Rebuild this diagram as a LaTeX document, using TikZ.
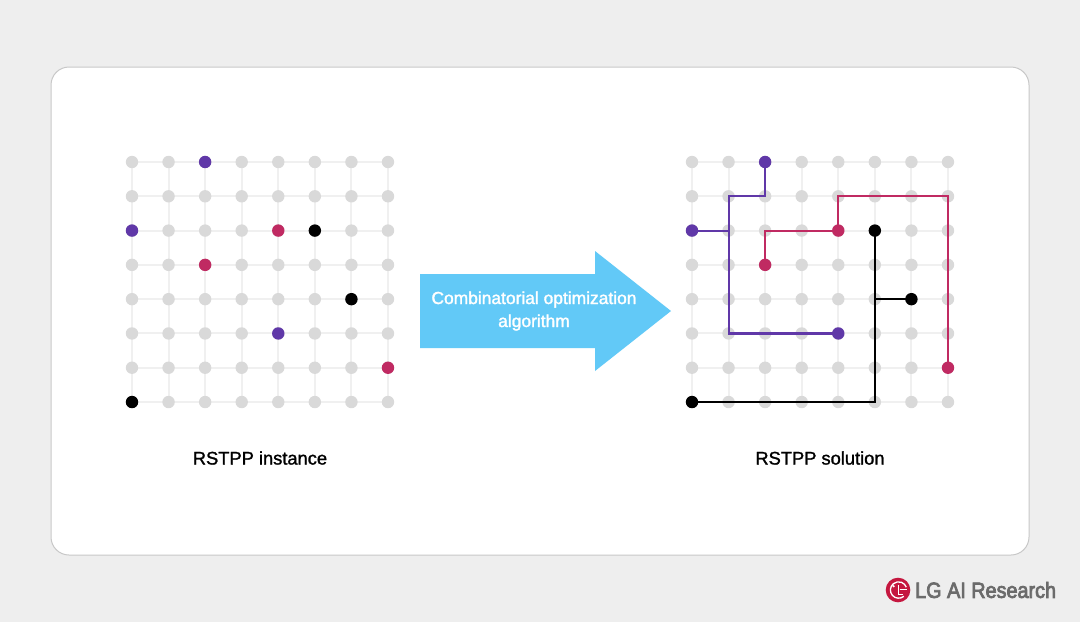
\documentclass[tikz,border=0pt]{standalone}
\usepackage{fontspec}
\usepackage{graphicx}
\setmainfont{Liberation Sans}
\newcommand{\heavier}[2]{\special{pdf:code 2 Tr #1 w}#2\special{pdf:code 0 Tr}}
\pgfdeclarelayer{cardlayer}
\pgfdeclarelayer{gridlayer}
\pgfsetlayers{cardlayer,gridlayer,main}
\definecolor{bgc}{HTML}{EEEEEE}
\definecolor{cardline}{HTML}{C8C8C8}
\definecolor{gridc}{HTML}{F0F0F0}
\definecolor{dotc}{HTML}{D9D9D9}
\definecolor{purp}{HTML}{6038A8}
\definecolor{crim}{HTML}{C02A62}
\definecolor{sky}{HTML}{62C9F7}
\definecolor{logogray}{HTML}{6B6B6B}
\definecolor{logored}{HTML}{C5173F}
\tikzset{
  dot/.style={circle,inner sep=0pt,minimum size=12.4pt,fill=#1},
  gridline/.style={draw=gridc,line width=2pt},
  route/.style={draw=#1,line width=2.1pt,line join=miter},
  caption/.style={font=\fontsize{18.3}{22}\selectfont,text=black,inner sep=0pt},
}
\begin{document}
\begin{tikzpicture}[x=1pt,y=-1pt]
\useasboundingbox (0,0) rectangle (1080,622);
\begin{pgfonlayer}{cardlayer}
\fill[bgc] (0,0) rectangle (1080,622);
\draw[cardline,fill=white,line width=1pt,rounded corners=18pt] (51,67) rectangle (1029,555);
\end{pgfonlayer}
% grey dots
\foreach \i in {1,...,8}{
  \foreach \j in {1,...,8}{
    \node[dot=dotc] (L-\i-\j) at ({132+36.57*(\i-1)},{162+34.29*(\j-1)}) {};
    \node[dot=dotc] (R-\i-\j) at ({692+36.57*(\i-1)},{162+34.29*(\j-1)}) {};
  }
}
% faint grid
\begin{pgfonlayer}{gridlayer}
\foreach \k in {1,...,8}{
  \draw[gridline] (L-\k-1.center) -- (L-\k-8.center);
  \draw[gridline] (L-1-\k.center) -- (L-8-\k.center);
  \draw[gridline] (R-\k-1.center) -- (R-\k-8.center);
  \draw[gridline] (R-1-\k.center) -- (R-8-\k.center);
}
\end{pgfonlayer}
% solution routes
\draw[route=purp] (R-3-1.center) -- (R-3-2.center) -- (R-2-2.center) -- (R-2-6.center) -- (R-5-6.center);
\draw[route=purp] (R-1-3.center) -- (R-2-3.center);
\draw[route=crim] (R-3-4.center) -- (R-3-3.center) -- (R-5-3.center) -- (R-5-2.center) -- (R-8-2.center) -- (R-8-7.center);
\draw[route=black] (R-6-3.center) -- (R-6-8.center) -- (R-1-8.center);
\draw[route=black] (R-7-5.center) -- (R-6-5.center);
% coloured terminals, left
\node[dot=purp] (lp1) at (L-3-1) {};
\node[dot=purp] (lp2) at (L-1-3) {};
\node[dot=purp] (lp3) at (L-5-6) {};
\node[dot=crim] (lc1) at (L-5-3) {};
\node[dot=crim] (lc2) at (L-3-4) {};
\node[dot=crim] (lc3) at (L-8-7) {};
\node[dot=black] (lk1) at (L-6-3) {};
\node[dot=black] (lk2) at (L-7-5) {};
\node[dot=black] (lk3) at (L-1-8) {};
% coloured terminals, right
\node[dot=purp] (rp1) at (R-3-1) {};
\node[dot=purp] (rp2) at (R-1-3) {};
\node[dot=purp] (rp3) at (R-5-6) {};
\node[dot=crim] (rc1) at (R-5-3) {};
\node[dot=crim] (rc2) at (R-3-4) {};
\node[dot=crim] (rc3) at (R-8-7) {};
\node[dot=black] (rk1) at (R-6-3) {};
\node[dot=black] (rk2) at (R-7-5) {};
\node[dot=black] (rk3) at (R-1-8) {};
% arrow
\fill[sky] (420,274) -- (595,274) -- (595,251) -- (671,311) -- (595,371) -- (595,348) -- (420,348) -- cycle;
\node[font=\fontsize{17.4}{23}\selectfont,text=white,align=center,inner sep=0pt] (algo) at (534,311) {\heavier{0.3}{Combinatorial optimization}\\\heavier{0.3}{algorithm}};
% captions
\node[caption] (capl) at (260,458) {\heavier{0.25}{RSTPP instance}};
\node[caption] (capr) at (820,458) {\heavier{0.25}{RSTPP solution}};
% logo
\fill[logored] (898,590) circle (12.3);
\draw[white,line width=1.3pt] (898.6,590) ++(50:8.2) arc (50:340:8.2);
\draw[white,line width=1.3pt] (898.3,584.5) -- (898.3,594.6) -- (903,594.6);
\draw[white,line width=1.3pt] (899.6,589.8) -- (906.6,589.8);
\fill[white] (893.6,586.2) circle (1.2);
\node[anchor=west,inner sep=0pt,font=\fontsize{22}{24}\selectfont,text=logogray] (brand) at (915,590) {\scalebox{0.9}[1]{\heavier{0.8}{LG AI Research}}};
\end{tikzpicture}
\end{document}
